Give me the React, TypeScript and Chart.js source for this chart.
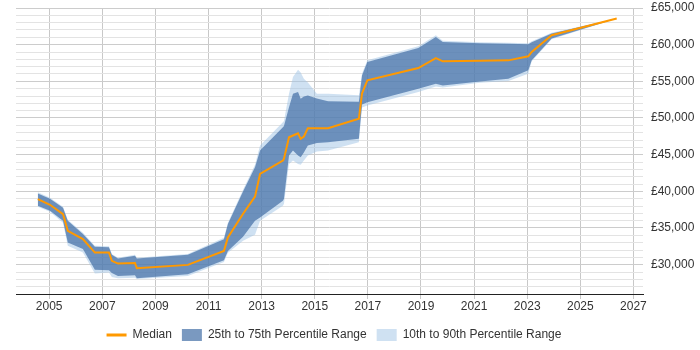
import React, { useEffect, useRef } from "react";
import { Chart, registerables } from "chart.js";

Chart.register(...registerables);

// Decimal years of each observation
const years = [
  2004.57, 2005.03, 2005.52, 2005.7, 2006.27, 2006.72, 2007.25, 2007.36, 2007.59, 2008.23,
  2008.3, 2010.22, 2011.58, 2011.73, 2012.3, 2012.75, 2012.94, 2013.8, 2013.84, 2014.03,
  2014.18, 2014.37, 2014.47, 2014.59, 2014.74, 2015.08, 2015.5, 2016.66, 2016.78, 2016.98,
  2018.9, 2019.56, 2019.82, 2021.22, 2022.29, 2023.04, 2023.17, 2023.92, 2026.37,
];

const median = [
  38950, 38170, 36900, 34620, 33480, 31650, 31650, 30520, 30150, 30240,
  29520, 29970, 31880, 33700, 36940, 39270, 42370, 44190, 44460, 47375,
  47610, 47920, 47160, 47470, 48610, 48610, 48610, 49890, 53350, 55130,
  56810, 58180, 57730, 57820, 57860, 58410, 59000, 61280, 63560,
];

const p25 = [
  38040, 37350, 35990, 33020, 32120, 29290, 29245, 28880, 28465, 28560,
  28150, 28700, 30610, 31880, 33800, 35990, 36440, 38720, 38990, 44870,
  45560, 44870, 44640, 45280, 46240, 46580, 46690, 47160, 51850, 52160,
  53990, 54680, 54440, 54990, 55360, 56495, 57860, 60830, 63560,
];

const p75 = [
  39720, 38990, 37760, 35990, 34170, 32430, 32360, 31340, 30830, 31200,
  30830, 31340, 33480, 35530, 39990, 43270, 45560, 48740, 48900, 51480,
  53310, 53530, 52630, 52940, 53080, 52670, 52300, 52200, 55810, 57630,
  59545, 61050, 60365, 60190, 60120, 60050, 60320, 61510, 63560,
];

const p10 = [
  37900, 37220, 35710, 32570, 31650, 28780, 28920, 28330, 28150, 28230,
  28055, 28465, 30380, 31610, 33250, 34070, 35990, 38040, 38310, 43740,
  44190, 43740, 43640, 44190, 44870, 45420, 45560, 46690, 51440, 51710,
  53530, 54310, 54170, 54810, 55030, 56040, 57730, 60730, 63560,
];

const p90 = [
  39880, 39130, 37900, 36120, 34345, 32570, 32500, 31470, 30930, 31340,
  30930, 31470, 33660, 35710, 40220, 43640, 46240, 49430, 49600, 53310,
  55580, 56590, 56220, 55360, 54855, 53310, 53310, 53100, 56085, 57860,
  59780, 61280, 60530, 60320, 60255, 60190, 60460, 61620, 63560,
];

const xTicks = [2005, 2007, 2009, 2011, 2013, 2015, 2017, 2019, 2021, 2023, 2025, 2027];

const legendLabels = ["Median", "25th to 75th Percentile Range", "10th to 90th Percentile Range"];

const ORANGE = "#ff9900";
const DARK = "rgba(66,110,165,0.7)";
const LIGHT = "rgba(160,195,230,0.5)";
const FONT = "'Liberation Sans', Arial, sans-serif";

export default function App() {
  const ref = useRef<HTMLCanvasElement | null>(null);

  useEffect(() => {
    document.body.style.margin = "0";
    const pts = (arr: number[]) => years.map((x, i) => ({ x, y: arr[i] }));
    const base = { pointRadius: 0, pointHoverRadius: 0, borderWidth: 0, borderColor: "transparent", tension: 0 };

    const shiftLegend = {
      id: "shiftLegend",
      afterLayout(chart: any) {
        const l = chart.legend;
        if (l) {
          l.top += 1;
          l.bottom += 1;
          l.left -= 21;
          l.right -= 21;
        }
      },
    };

    const chart = new Chart(ref.current as HTMLCanvasElement, {
      type: "line",
      data: {
        datasets: [
          { ...base, label: legendLabels[0], data: pts(median), borderColor: ORANGE, borderWidth: 2, fill: false },
          { ...base, label: legendLabels[1], data: pts(p75), backgroundColor: DARK, fill: 2 },
          { ...base, label: "p25", data: pts(p25), fill: false },
          { ...base, label: legendLabels[2], data: pts(p90), backgroundColor: LIGHT, fill: 4 },
          { ...base, label: "p10", data: pts(p10), fill: false },
        ] as any,
      },
      plugins: [shiftLegend],
      options: {
        animation: false,
        responsive: true,
        maintainAspectRatio: false,
        layout: { padding: { left: 16, right: 6, top: 8, bottom: 0 } },
        plugins: {
          tooltip: { enabled: false },
          legend: {
            position: "bottom",
            labels: {
              font: { family: FONT, size: 12 },
              color: "#333",
              usePointStyle: true,
              pointStyleWidth: 20,
              boxHeight: 12,
              padding: 10,
              generateLabels: () => [
                { text: legendLabels[0], pointStyle: "line", strokeStyle: ORANGE, fillStyle: ORANGE, lineWidth: 3, datasetIndex: 0, hidden: false, fontColor: "#333" },
                { text: legendLabels[1], pointStyle: "rect", strokeStyle: "rgba(0,0,0,0)", fillStyle: DARK, lineWidth: 0, datasetIndex: 1, hidden: false, fontColor: "#333" },
                { text: legendLabels[2], pointStyle: "rect", strokeStyle: "rgba(0,0,0,0)", fillStyle: LIGHT, lineWidth: 0, datasetIndex: 3, hidden: false, fontColor: "#333" },
              ] as any,
            },
          },
        },
        scales: {
          x: {
            type: "linear",
            min: 2003.75,
            max: 2027.36,
            afterBuildTicks: (axis: any) => {
              axis.ticks = xTicks.map((v) => ({ value: v }));
            },
            afterFit: (axis: any) => {
              axis.height = 24;
            },
            ticks: {
              autoSkip: false,
              maxRotation: 0,
              padding: 0,
              color: "#333",
              font: { family: FONT, size: 12 },
              callback: (v: any) => String(v),
            },
            grid: { color: "#c8c8c8", tickLength: 5, drawTicks: true },
            border: { color: "#222", width: 1 },
          },
          y: {
            type: "linear",
            position: "right",
            min: 26000,
            max: 65000,
            afterFit: (axis: any) => {
              axis.width = 51;
              axis.paddingTop = 0;
              axis.paddingBottom = 0;
            },
            ticks: {
              stepSize: 1000,
              autoSkip: false,
              padding: 8,
              color: "#333",
              font: { family: FONT, size: 12 },
              callback: (v: any) => (Number(v) % 5000 === 0 ? "£" + Number(v).toLocaleString("en-GB") : ""),
            },
            grid: {
              drawTicks: false,
              color: (ctx: any) => (ctx.tick && ctx.tick.value % 5000 === 0 ? "#cccccc" : "#e3e3e3"),
            },
            border: { display: false },
          },
        },
      },
    });
    return () => chart.destroy();
  }, []);

  return (
    <div style={{ width: 700, height: 350, position: "relative" }}>
      <canvas ref={ref} />
    </div>
  );
}
